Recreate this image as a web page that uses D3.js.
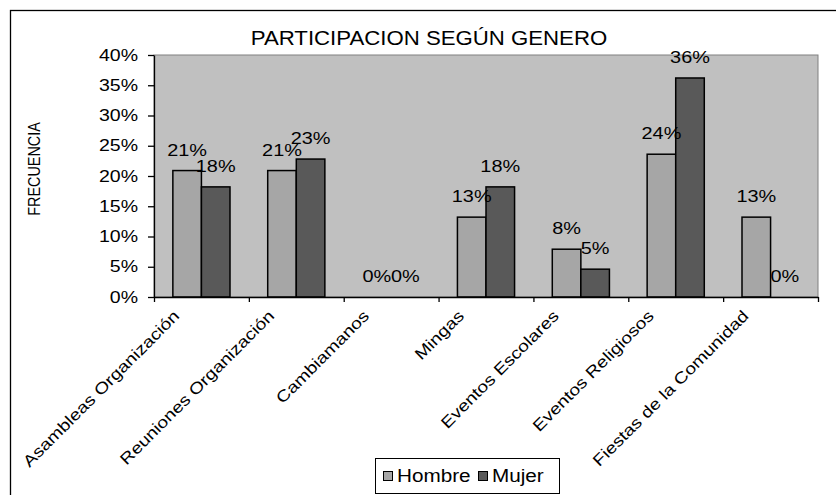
<!DOCTYPE html>
<html>
<head>
<meta charset="utf-8">
<script src="https://cdn.jsdelivr.net/npm/d3@7"></script>
<style>
  body { margin: 0; background: #fff; }
  text { font-family: "Liberation Sans", Arial, sans-serif; fill: #000; }
</style>
</head>
<body>
<script>
  var w = 836
  var h = 495

  // data
  var categories = ["Asambleas Organización", "Reuniones Organización", "Cambiamanos", "Mingas",
      "Eventos Escolares", "Eventos Religiosos", "Fiestas de la Comunidad"];
  var series = ["Hombre", "Mujer"];
  var hombre = [0.209, 0.209, 0, 0.132, 0.079, 0.236, 0.132];
  var mujer = [0.182, 0.228, 0, 0.182, 0.046, 0.362, 0];
  var yTicks = [0, 0.05, 0.10, 0.15, 0.20, 0.25, 0.30, 0.35, 0.40];
  var colors = ["#a6a6a6", "#595959"];

  var plotLeft = 154, plotRight = 818, plotTop = 55, plotBottom = 297;

  //makes the text look wide like the excel picture
  function stretch(sel, k) {
      sel.each(function () {
          var L = this.getComputedTextLength();
          d3.select(this).attr("textLength", L * k).attr("lengthAdjust", "spacingAndGlyphs");
      });
  }

  var svg = d3.select("body")
      .append("svg")
      .attr("width", w)
      .attr("height", h);

  // outer chart border (goes off the picture right and bottom)
  svg.append("rect")
      .attr("x", 10.5).attr("y", 10.5)
      .attr("width", 900).attr("height", 600)
      .attr("fill", "#fff")
      .attr("stroke", "#000")
      .attr("stroke-width", 1.3);

  //SCALES
  var x0 = d3.scaleBand()
      .domain(categories)
      .range([plotLeft, plotRight]);

  var x1 = d3.scaleBand()
      .domain(series)
      .range([0, x0.bandwidth()])
      .paddingOuter(0.66);

  var y = d3.scaleLinear()
      .domain([0, 0.4])
      .range([plotBottom, plotTop]);

  var xTicks = d3.scaleLinear()
      .domain([0, categories.length])
      .range([plotLeft, plotRight]);

  // plot area
  svg.append("rect")
      .attr("x", plotLeft).attr("y", plotTop)
      .attr("width", plotRight - plotLeft).attr("height", plotBottom - plotTop)
      .attr("fill", "#c0c0c0")
      .attr("stroke", "#808080")
      .attr("stroke-width", 1);

  //BARS
  var rows = categories.map(function (c, i) {
      return { cat: c, values: [{ s: "Hombre", v: hombre[i], k: 0 }, { s: "Mujer", v: mujer[i], k: 1 }] };
  });

  var groups = svg.selectAll("g.cat")
      .data(rows)
      .enter()
      .append("g")
      .attr("class", "cat")
      .attr("transform", function (d) { return "translate(" + x0(d.cat) + ",0)"; });

  groups.selectAll("rect")
      .data(function (d) { return d.values.filter(function (e) { return e.v > 0; }); })
      .enter()
      .append("rect")
      .attr("x", function (d) { return x1(d.s); })
      .attr("y", function (d) { return y(d.v); })
      .attr("width", x1.bandwidth())
      .attr("height", function (d) { return plotBottom - y(d.v); })
      .attr("fill", function (d) { return colors[d.k]; })
      .attr("stroke", "#000")
      .attr("stroke-width", 1.5);

  //AXES
  var yAxis = svg.append("g")
      .attr("transform", "translate(" + plotLeft + ",0)")
      .call(d3.axisLeft(y).tickValues(yTicks).tickFormat(d3.format(".0%")).tickSize(6).tickSizeOuter(0).tickPadding(10));

  var xAxis = svg.append("g")
      .attr("transform", "translate(0," + plotBottom + ")")
      .call(d3.axisBottom(xTicks).tickValues(d3.range(categories.length + 1)).tickFormat("").tickSize(5).tickSizeOuter(0));

  svg.selectAll(".domain, .tick line").attr("stroke", "#000").attr("stroke-width", 1.3);

  yAxis.selectAll("text")
      .attr("font-size", "16px")
      .attr("fill", "#000")
      .attr("font-family", "Liberation Sans, Arial, sans-serif")
      .call(stretch, 1.22);

  //LABELS
  groups.selectAll("text.val")
      .data(function (d) { return d.values; })
      .enter()
      .append("text")
      .attr("class", "val")
      .text(function (d) { return d3.format(".0%")(d.v); })
      .attr("x", function (d) { return x1(d.s) + x1.bandwidth() / 2; })
      .attr("y", function (d) { return y(d.v) - 15; })
      .attr("text-anchor", "middle")
      .attr("font-size", "17px")
      .call(stretch, 1.17);

  // category labels, rotated
  svg.selectAll("g.xlab")
      .data(categories)
      .enter()
      .append("g")
      .attr("class", "xlab")
      .attr("transform", function (d) {
          return "translate(" + (x0(d) + x0.bandwidth() / 2 - 25) + "," + 313 + ") rotate(-45)";
      })
      .append("text")
      .text(function (d) { return d; })
      .attr("text-anchor", "end")
      .attr("dy", "0.35em")
      .attr("font-size", "16px")
      .call(stretch, 1.2);

  // title
  svg.append("text")
      .attr("x", 429)
      .attr("y", 45)
      .attr("text-anchor", "middle")
      .attr("font-size", "20px")
      .text("PARTICIPACION SEGÚN GENERO")
      .call(stretch, 1.11);

  // y label
  svg.append("text")
      .attr("transform", "translate(40,169) rotate(-90)")
      .attr("text-anchor", "middle")
      .attr("font-size", "16px")
      .text("FRECUENCIA")
      .call(stretch, 0.9);

  //LEGEND
  var legend = svg.append("g");
  legend.append("rect")
      .attr("x", 375.5).attr("y", 458.5)
      .attr("width", 184).attr("height", 35)
      .attr("fill", "#fff")
      .attr("stroke", "#000")
      .attr("stroke-width", 1);

  var legX = [383, 478];
  var items = legend.selectAll("g.item")
      .data(series)
      .enter()
      .append("g")
      .attr("class", "item")
      .attr("transform", function (d, i) { return "translate(" + legX[i] + ",0)"; });

  items.append("rect")
      .attr("x", 0.5).attr("y", 471.5)
      .attr("width", 9).attr("height", 9)
      .attr("fill", function (d, i) { return colors[i]; })
      .attr("stroke", "#000")
      .attr("stroke-width", 1);

  items.append("text")
      .attr("x", 14)
      .attr("y", 482)
      .attr("font-size", "18px")
      .text(function (d) { return d; })
      .call(stretch, 1.15);
</script>
</body>
</html>
